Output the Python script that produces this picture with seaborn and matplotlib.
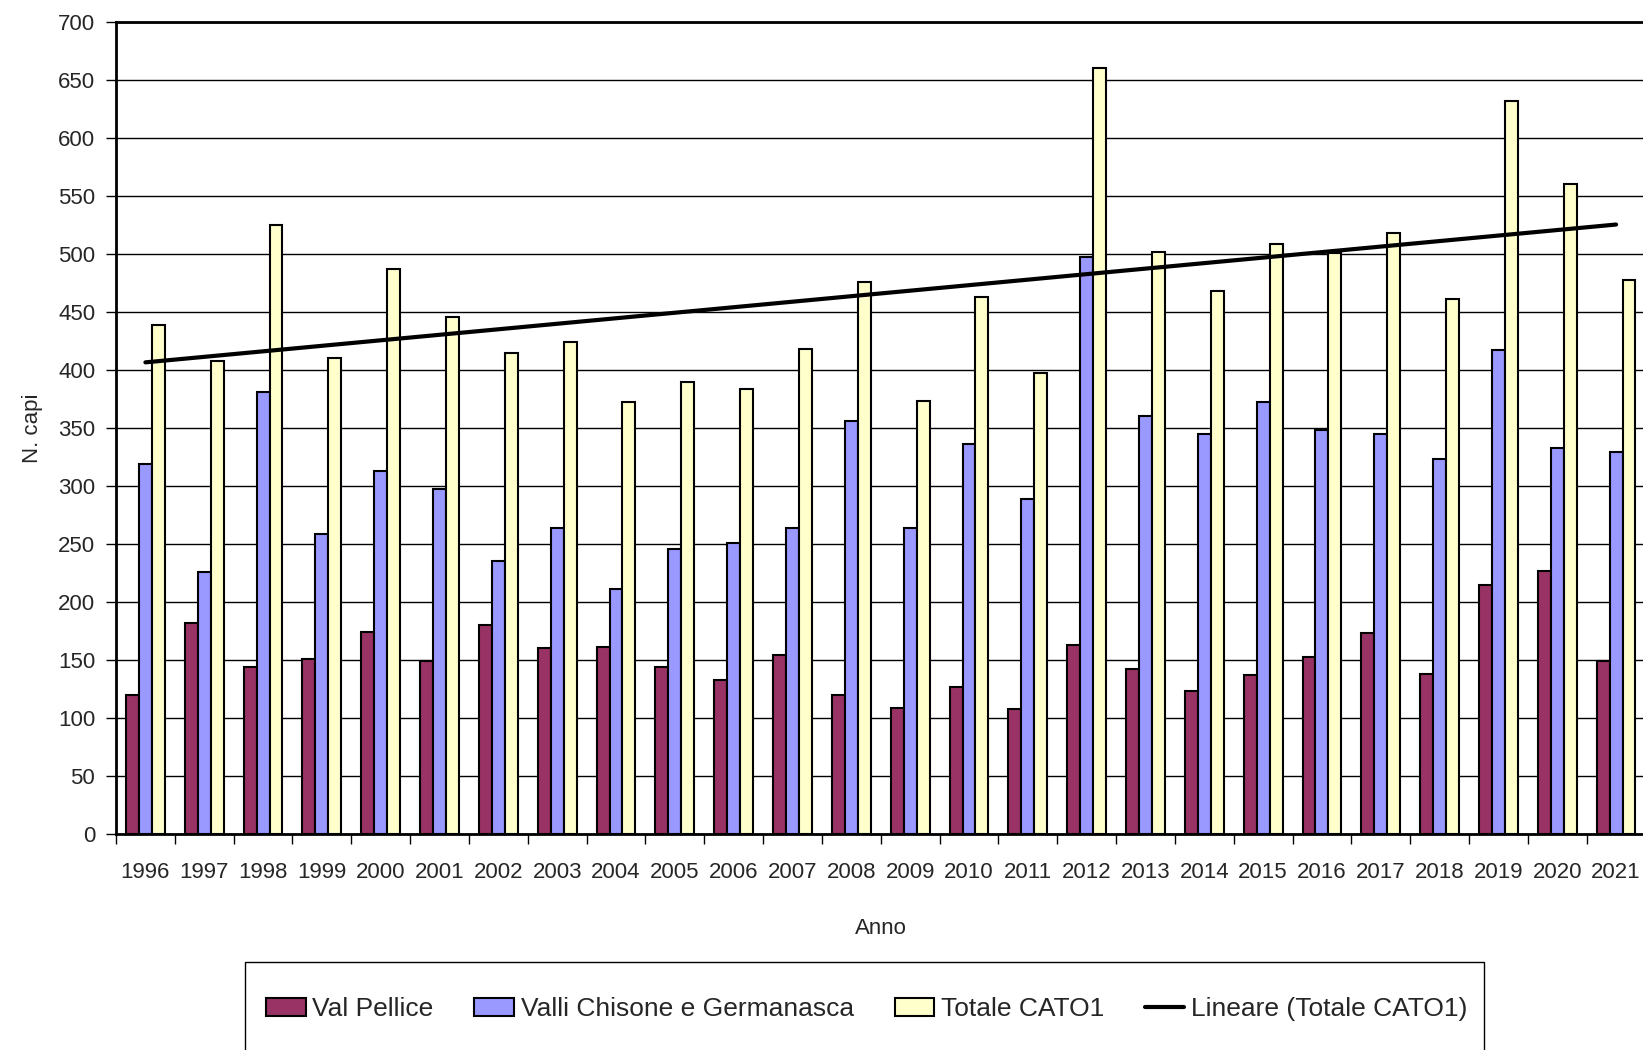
import numpy as np
import pandas as pd
import matplotlib
matplotlib.use("Agg")
import matplotlib.pyplot as plt
from matplotlib.patches import Patch, Rectangle
from matplotlib.lines import Line2D
import seaborn as sns

# dati
anni = ["1996", "1997", "1998", "1999", "2000", "2001", "2002", "2003", "2004",
        "2005", "2006", "2007", "2008", "2009", "2010", "2011", "2012", "2013",
        "2014", "2015", "2016", "2017", "2018", "2019", "2020", "2021"]
val_pellice = [120, 182, 144, 151, 174, 149, 180, 160, 161, 144, 133, 154, 120,
               109, 127, 108, 163, 142, 123, 137, 153, 173, 138, 215, 227, 149]
valli_chisone = [319, 226, 381, 259, 313, 297, 235, 264, 211, 246, 251, 264, 356,
                 264, 336, 289, 497, 360, 345, 372, 348, 345, 323, 417, 333, 329]
totale = [439, 408, 525, 410, 487, 446, 415, 424, 372, 390, 384, 418, 476,
          373, 463, 397, 660, 502, 468, 509, 501, 518, 461, 632, 560, 478]

serie = ["Val Pellice", "Valli Chisone e Germanasca", "Totale CATO1"]
colori = ["#993366", "#9999FF", "#FFFFCC"]

df = pd.DataFrame({
    "Anno": anni * 3,
    "N. capi": val_pellice + valli_chisone + totale,
    "Serie": [serie[0]] * len(anni) + [serie[1]] * len(anni) + [serie[2]] * len(anni),
})

sns.set_theme(style="white")
plt.rcParams["font.family"] = ["Liberation Sans", "DejaVu Sans"]

fig = plt.figure(figsize=(16.43, 10.5), dpi=100)
ax = fig.add_axes([116 / 1643, 1 - 834 / 1050, 1529.5 / 1643, 812 / 1050])

sns.barplot(data=df, x="Anno", y="N. capi", hue="Serie", hue_order=serie,
            palette=colori, saturation=1, width=0.66, edgecolor="black",
            linewidth=1.5, legend=False, ax=ax, zorder=3)

# linea di tendenza lineare del totale
idx = np.arange(len(anni))
coef = np.polyfit(idx, totale, 1)
ax.plot(idx, np.polyval(coef, idx), color="black", lw=3, zorder=4,
        solid_capstyle="round")

ax.set_xlim(-0.5, len(anni) - 0.5)
ax.set_ylim(0, 700)
ax.set_yticks(range(0, 701, 50))
ax.yaxis.grid(True, color="black", lw=1)
ax.set_axisbelow(True)

ax.set_xticks(idx)
ax.set_xticklabels(anni)
ax.set_xticks(np.arange(-0.5, len(anni), 1), minor=True)
ax.tick_params(axis="x", which="major", length=0, pad=20, labelsize=16)
ax.tick_params(axis="x", which="minor", length=7, width=1, direction="out",
               color="black", bottom=True)
ax.tick_params(axis="y", length=7, width=1, direction="out", color="black",
               left=True, pad=8, labelsize=16)

for s in ["left", "bottom", "top"]:
    ax.spines[s].set_visible(True)
    ax.spines[s].set_color("black")
    ax.spines[s].set_linewidth(2)
ax.spines["right"].set_visible(False)

ax.set_xlabel("Anno", fontsize=16)
ax.set_ylabel("N. capi", fontsize=16)
ax.xaxis.set_label_coords(0.5, -0.104)
ax.yaxis.set_label_coords(-0.048, 0.5)

# legenda in basso, con cornice che esce dal bordo
handles = [Patch(facecolor=c, edgecolor="black", lw=1.5) for c in colori]
handles.append(Line2D([], [], color="black", lw=3))
etichette = serie + ["Lineare (Totale CATO1)"]
fig.legend(handles, etichette, loc="center left",
           bbox_to_anchor=(266 / 1643, 1 - 1009 / 1050), ncol=4,
           frameon=False, fontsize=19, borderpad=0, borderaxespad=0,
           handlelength=1.5, handleheight=0.7, handletextpad=0.25,
           columnspacing=1.55)
fig.patches.append(Rectangle((245 / 1643, -0.05), 1239 / 1643, 0.05 + 1 - 962 / 1050,
                             transform=fig.transFigure, fill=False,
                             edgecolor="black", lw=1))

fig.savefig("out.png", dpi=100)
